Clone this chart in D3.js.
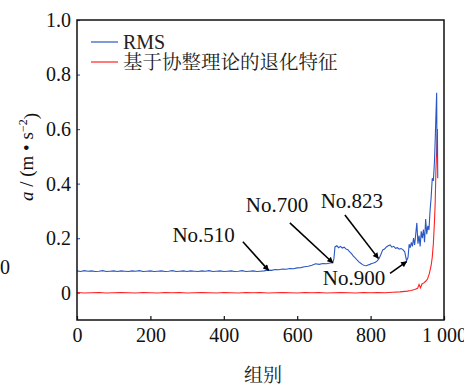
<!DOCTYPE html>
<html>
<head>
<meta charset="utf-8">
<script src="https://cdn.jsdelivr.net/npm/d3@7"></script>
<style>
  .t-serif { font-family: serif; }
</style>
</head>
<body style="margin:0">
<script>
// RMS vs cointegration-based degradation feature

const xTicks = [0, 200, 400, 600, 800, 1000];
const xTickLabels = ["0", "200", "400", "600", "800", "1 000"];
const yTicks = [0, 0.2, 0.4, 0.6, 0.8, 1.0];
const yTickLabels = ["0", "0.2", "0.4", "0.6", "0.8", "1.0"];

// RMS curve (group index, value)
const rmsX = [
    0, 10, 20, 30, 40, 50, 60, 70, 80, 90, 100, 110, 120, 130, 140, 150, 160, 170, 180, 190,
    200, 210, 220, 230, 240, 250, 260, 270, 280, 290, 300, 310, 320, 330, 340, 350, 360, 370, 380, 390,
    400, 410, 420, 430, 440, 450, 460, 470, 480, 490, 500, 510,
    520, 530, 540, 550, 560, 570, 580, 590, 600, 610, 620, 630, 640, 650, 660, 670, 680, 690, 697,
    700, 703, 708, 713, 718, 723, 728, 733, 738, 743, 748, 753, 758, 763, 768, 773, 778, 783, 788, 793,
    798, 803, 808, 813, 818, 823, 828, 833, 838, 843, 848, 853, 858, 863, 868, 873, 878, 883, 888, 893,
    898, 902, 905, 908, 911, 914, 917, 920, 923, 926, 929, 932, 935, 938, 941, 944, 947, 950, 953, 956,
    959, 962, 965, 968, 971, 974, 976, 978, 980, 981, 982, 983
];
const rmsY = [
    0.080, 0.078, 0.081, 0.079, 0.080, 0.078, 0.079, 0.081, 0.078, 0.079, 0.080, 0.078, 0.080, 0.079, 0.078, 0.080, 0.079, 0.081, 0.078, 0.079,
    0.080, 0.078, 0.079, 0.080, 0.078, 0.079, 0.081, 0.078, 0.079, 0.080, 0.078, 0.080, 0.079, 0.078, 0.080, 0.079, 0.081, 0.078, 0.079, 0.080,
    0.078, 0.079, 0.080, 0.078, 0.079, 0.081, 0.078, 0.079, 0.080, 0.078, 0.079, 0.080,
    0.083, 0.082, 0.085, 0.084, 0.087, 0.086, 0.089, 0.088, 0.091, 0.092, 0.095, 0.097, 0.101, 0.106, 0.104, 0.107, 0.106, 0.109, 0.110,
    0.125, 0.168, 0.172, 0.165, 0.170, 0.164, 0.167, 0.160, 0.158, 0.150, 0.143, 0.134, 0.128, 0.120, 0.113, 0.108, 0.103, 0.100, 0.099, 0.102,
    0.104, 0.107, 0.109, 0.112, 0.117, 0.125, 0.140, 0.157, 0.160, 0.168, 0.172, 0.175, 0.167, 0.170, 0.163, 0.165, 0.160, 0.162, 0.158, 0.150,
    0.117, 0.130, 0.178, 0.165, 0.185, 0.170, 0.200, 0.175, 0.215, 0.256, 0.180, 0.210, 0.170, 0.225, 0.200, 0.232, 0.185, 0.270, 0.215, 0.245,
    0.230, 0.300, 0.350, 0.420, 0.410, 0.480, 0.560, 0.650, 0.733, 0.500, 0.600, 0.420
];

// cointegration-based degradation feature
const featX = [
    0, 20, 40, 60, 80, 100, 120, 140, 160, 180, 200, 220, 240, 260, 280, 300, 320, 340, 360, 380,
    400, 420, 440, 460, 480, 500, 520, 540, 560, 580, 600, 620, 640, 660, 680, 700, 720, 740, 760, 780,
    800, 820, 840, 860, 880, 900, 910, 920, 928, 932, 936, 940, 945, 950, 955, 960, 965, 968, 971, 974,
    976, 978, 980, 982
];
const featY = [
    0.001, -0.001, 0.000, 0.001, -0.001, 0.000, 0.001, 0.000, -0.001, 0.001, 0.000, -0.001, 0.001, 0.000, 0.001, -0.001, 0.000, 0.001, 0.000, -0.001,
    0.001, 0.000, -0.001, 0.001, 0.000, 0.001, -0.001, 0.000, 0.001, 0.000, -0.001, 0.001, 0.000, 0.001, -0.001, 0.000, 0.001, 0.000, -0.001, 0.001,
    0.000, 0.001, 0.000, 0.002, 0.003, 0.006, 0.008, 0.012, 0.016, 0.030, 0.018, 0.032, 0.036, 0.042, 0.050, 0.070, 0.100, 0.130, 0.180, 0.260,
    0.330, 0.450, 0.520, 0.580
];

const seriesNames = ["RMS", "基于协整理论的退化特征"];
const seriesColors = ["#2b57c4", "#ff2020"];

// arrow annotations: label, label centre, arrow start, arrow tip (data units)
const notes = [
    { label: "No.510", lx: 345, ly: 0.212, x0: 452, y0: 0.187, x1: 522, y1: 0.082 },
    { label: "No.700", lx: 545, ly: 0.322, x0: 580, y0: 0.256, x1: 697, y1: 0.110 },
    { label: "No.823", lx: 749, ly: 0.337, x0: 730, y0: 0.285, x1: 821, y1: 0.126 },
    { label: "No.900", lx: 755, ly: 0.054, x0: 853, y0: 0.071, x1: 898, y1: 0.114 }
];

const width = 464, height = 388;
const plot = { left: 77, right: 444, top: 20, bottom: 320 };

const svg = d3.select("body").append("svg")
    .attr("width", width)
    .attr("height", height)
    .style("display", "block");

const x = d3.scaleLinear().domain([0, 1000]).range([plot.left, plot.right]);
const y = d3.scaleLinear().domain([-0.1, 1.0]).range([plot.bottom, plot.top]);

const defs = svg.append("defs");
defs.append("clipPath").attr("id", "clip")
    .append("rect")
    .attr("x", plot.left).attr("y", plot.top)
    .attr("width", plot.right - plot.left).attr("height", plot.bottom - plot.top);

defs.append("marker")
    .attr("id", "arrow")
    .attr("viewBox", "0 0 10 10")
    .attr("refX", 9).attr("refY", 5)
    .attr("markerWidth", 7).attr("markerHeight", 6)
    .attr("markerUnits", "userSpaceOnUse")
    .attr("orient", "auto")
    .append("path")
    .attr("d", "M0,0 L10,5 L0,10 Z")
    .attr("fill", "#000");

// x axis: labels set with the css class
const xAxis = svg.append("g")
    .attr("transform", `translate(0,${plot.bottom})`)
    .call(d3.axisBottom(x).tickValues(xTicks).tickSize(-4).tickPadding(8)
        .tickFormat((d, i) => xTickLabels[i]));
xAxis.attr("font-family", null).attr("font-size", null);
xAxis.select(".domain").remove();
xAxis.selectAll("line").attr("stroke", "#111").attr("stroke-width", 1.2);
xAxis.selectAll("text").attr("class", "t-serif").attr("font-size", 20).attr("fill", "#111");

// y axis: labels set with a generic family attribute
const yAxis = svg.append("g")
    .attr("transform", `translate(${plot.left},0)`)
    .call(d3.axisLeft(y).tickValues(yTicks).tickSize(-3).tickPadding(6)
        .tickFormat((d, i) => yTickLabels[i]));
yAxis.attr("font-family", "serif").attr("font-size", 20);
yAxis.select(".domain").remove();
yAxis.selectAll("line").attr("stroke", "#3b63c8").attr("stroke-width", 1.2);
yAxis.selectAll("text").attr("fill", "#111");

// series
const line = d3.line().x(d => x(d[0])).y(d => y(d[1]));
const linesG = svg.append("g").attr("clip-path", "url(#clip)");

linesG.append("path")
    .datum(featX.map((v, i) => [v, featY[i]]))
    .attr("d", line)
    .attr("fill", "none")
    .attr("stroke", seriesColors[1])
    .attr("stroke-width", 1.1);

linesG.append("path")
    .datum(rmsX.map((v, i) => [v, rmsY[i]]))
    .attr("d", line)
    .attr("fill", "none")
    .attr("stroke", seriesColors[0])
    .attr("stroke-width", 1.1);

// frame
svg.append("rect")
    .attr("x", plot.left).attr("y", plot.top)
    .attr("width", plot.right - plot.left).attr("height", plot.bottom - plot.top)
    .attr("fill", "none")
    .attr("stroke", "#111")
    .attr("stroke-width", 1.5);

// annotations: inline style, quoted single family
notes.forEach(n => {
    svg.append("line")
        .attr("x1", x(n.x0)).attr("y1", y(n.y0))
        .attr("x2", x(n.x1)).attr("y2", y(n.y1))
        .attr("stroke", "#000")
        .attr("stroke-width", 1.6)
        .attr("marker-end", "url(#arrow)");
    svg.append("text")
        .attr("x", x(n.lx)).attr("y", y(n.ly))
        .attr("dy", "0.35em")
        .attr("text-anchor", "middle")
        .attr("fill", "#111")
        .style("font-family", "\"Liberation Serif\"")
        .style("font-size", "21px")
        .text(n.label);
});

// legend
const legend = svg.append("g");
seriesNames.forEach((name, i) => {
    const ly = 42 + i * 20;
    legend.append("line")
        .attr("x1", 91).attr("x2", 118)
        .attr("y1", ly).attr("y2", ly)
        .attr("stroke", seriesColors[i])
        .attr("stroke-width", 1.2);
    legend.append("text")
        .attr("x", 123).attr("y", ly)
        .attr("dy", "0.35em")
        .attr("fill", "#222")
        .style("font-family", i === 0 ? "serif" : "\"Noto Serif CJK SC\"")
        .style("font-size", i === 0 ? "20px" : "19.5px")
        .text(name);
});

// axis titles
const yTitle = svg.append("text")
    .attr("transform", "translate(33,157) rotate(-90)")
    .attr("text-anchor", "middle")
    .attr("fill", "#111")
    .style("font-family", "serif")
    .style("font-size", "19px");
yTitle.append("tspan").style("font-style", "italic").text("a");
yTitle.append("tspan").text(" / (m • s");
yTitle.append("tspan").attr("dy", "-0.5em").style("font-size", "12px").text("−2");
yTitle.append("tspan").attr("dy", "0.5em").text(")");

svg.append("text")
    .attr("x", 263).attr("y", 375)
    .attr("dy", "0.35em")
    .attr("text-anchor", "middle")
    .attr("fill", "#222")
    .style("font-family", "\"Noto Serif CJK SC\"")
    .style("font-size", "19px")
    .text("组别");

// stray zero at the left edge of the figure
svg.append("text")
    .attr("x", 0).attr("y", 267)
    .attr("dy", "0.35em")
    .attr("fill", "#111")
    .style("font-family", "serif")
    .style("font-size", "20px")
    .text("0");
</script>
</body>
</html>
